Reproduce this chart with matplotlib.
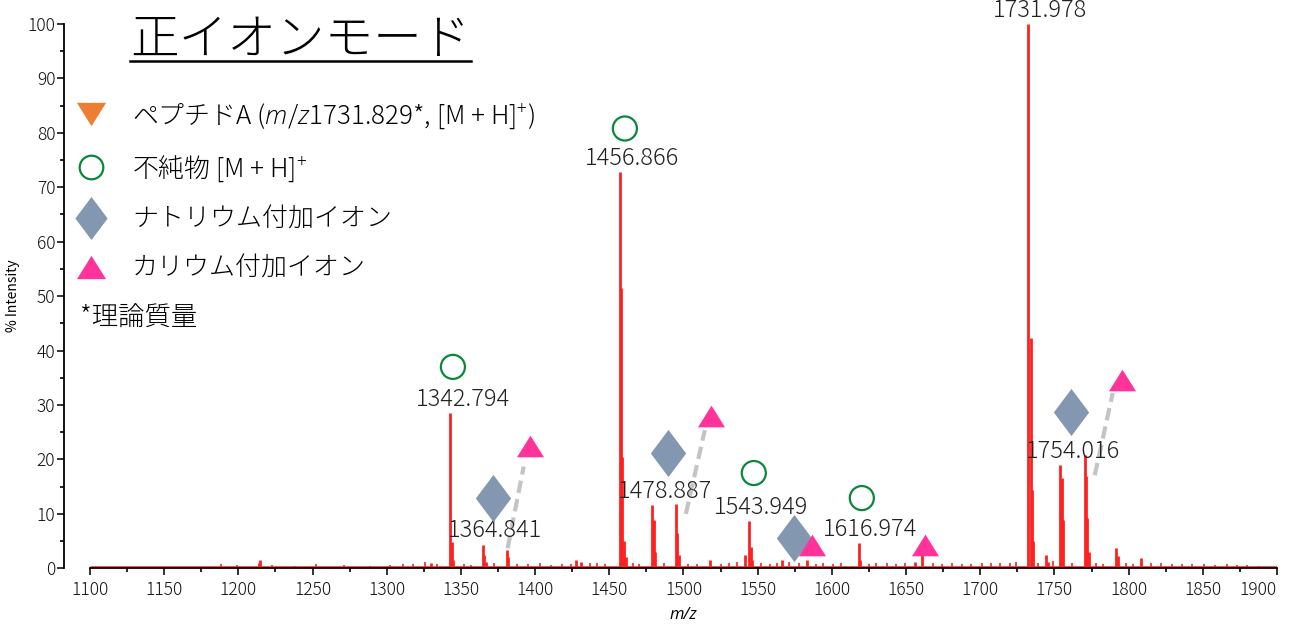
import matplotlib
matplotlib.use('Agg')
import matplotlib.pyplot as plt
from matplotlib.lines import Line2D
from matplotlib.path import Path
from matplotlib.ticker import MultipleLocator
import numpy as np

plt.rcParams['font.family'] = ['Noto Sans CJK JP', 'DejaVu Sans']
plt.rcParams['font.weight'] = 'light'
plt.rcParams['mathtext.fontset'] = 'custom'
plt.rcParams['mathtext.rm'] = 'Noto Sans CJK JP:light'
plt.rcParams['mathtext.it'] = 'Open Sans:italic:light'

# main peaks (m/z, % intensity)
peak_mz = [1213.8, 1214.5, 1330.0, 1342.8, 1343.8, 1344.6, 1364.8, 1365.7, 1366.6,
           1380.8, 1381.7, 1427.5, 1431.0, 1456.9, 1458.0, 1458.8, 1459.9, 1461.0,
           1478.9, 1479.8, 1480.7, 1495.0, 1495.9, 1496.8, 1518.0, 1541.4, 1544.3,
           1545.2, 1546.0, 1566.5, 1583.0, 1618.0, 1619.0, 1656.0, 1661.0,
           1732.0, 1734.2, 1734.9, 1735.8, 1744.6, 1745.5, 1754.0, 1755.0, 1755.8,
           1770.5, 1771.3, 1772.3, 1773.0, 1791.8, 1792.6, 1808.5]
peak_int = [0.9, 1.6, 1.0, 28.5, 4.8, 1.5, 4.3, 2.5, 1.2,
            3.4, 2.0, 1.5, 1.2, 72.8, 51.5, 20.5, 5.0, 2.0,
            11.6, 8.9, 3.0, 11.9, 6.5, 2.5, 1.5, 2.4, 8.7,
            4.0, 1.5, 1.5, 1.5, 4.6, 1.6, 1.2, 2.4,
            100.0, 42.3, 14.3, 5.0, 2.4, 1.2, 18.9, 16.5, 8.9,
            20.8, 17.0, 9.2, 3.0, 3.8, 2.2, 1.8]

# baseline noise (m/z, % intensity)
noise_mz = [1188, 1199, 1223, 1238, 1252, 1271, 1289, 1302, 1311, 1318, 1326,
            1334, 1352, 1357, 1372, 1388, 1395, 1403, 1411, 1418, 1424, 1437,
            1442, 1447, 1466, 1470, 1487, 1503, 1509, 1525, 1531, 1536, 1552,
            1558, 1563, 1571, 1578, 1589, 1594, 1601, 1606, 1625, 1630, 1637,
            1643, 1649, 1668, 1674, 1681, 1688, 1694, 1701, 1707, 1713, 1720,
            1724, 1739, 1749, 1762, 1778, 1783, 1798, 1803, 1815, 1822, 1829,
            1836, 1843, 1851, 1858, 1866, 1873, 1880, 1888]
noise_int = [0.7, 0.6, 0.6, 0.5, 0.7, 0.6, 0.5, 0.6, 0.8, 0.7, 1.1,
             0.7, 0.8, 0.6, 0.9, 0.7, 0.8, 0.9, 0.6, 0.7, 0.8, 0.9,
             1.0, 0.8, 0.9, 0.7, 0.9, 0.8, 0.7, 0.8, 1.0, 1.1, 0.9,
             0.8, 0.9, 1.2, 1.0, 0.8, 0.9, 0.7, 0.9, 0.8, 1.0, 0.9,
             0.8, 1.0, 0.9, 0.8, 0.9, 0.7, 0.8, 0.9, 1.0, 0.9, 1.0,
             1.1, 1.0, 1.3, 0.9, 1.0, 0.8, 0.9, 0.8, 0.9, 1.0, 0.8,
             0.7, 0.8, 0.7, 0.6, 0.7, 0.6, 0.6, 0.5]
baseline = 0.3

# labelled peaks
label_mz = [1342.794, 1364.841, 1456.866, 1478.887, 1543.949, 1616.974, 1731.978, 1754.016]
label_int = [28.5, 4.3, 72.8, 11.6, 8.7, 4.6, 100.0, 18.9]

# annotation markers
impurity_mz = [1344.6, 1460.5, 1547.4, 1620.2]
impurity_y = [37.0, 80.8, 17.5, 12.9]
na_mz = [1371.6, 1489.5, 1574.4, 1761.1]
na_y = [12.9, 21.2, 5.6, 28.7]
k_mz = [1396.5, 1518.5, 1586.5, 1662.7, 1795.4]
k_y = [22.4, 28.0, 4.2, 4.3, 34.6]
# dashed connectors (start, end)
conn_mz = [(1381.5, 1392.3), (1501.6, 1514.4), (1777.2, 1789.3)]
conn_y = [(3.7, 18.7), (10.0, 25.4), (17.1, 32.2)]

x_ticks = list(range(1100, 1901, 50))

legend_labels = ['ペプチドA ($\\it{m/z}$1731.829*, [M + H]$^{+}$)',
                 '不純物 [M + H]$^{+}$',
                 'ナトリウム付加イオン',
                 'カリウム付加イオン']

red = '#ff2020'
orange = '#ed7d31'
green = '#0a873a'
slate = '#8497b0'
pink = '#ff3399'

diamond = Path([(0, 1), (0.75, 0), (0, -1), (-0.75, 0), (0, 1)])
tri_up = Path([(0, 0.8), (1, -0.8), (-1, -0.8), (0, 0.8)])
tri_dn = Path([(0, -0.8), (1, 0.8), (-1, 0.8), (0, -0.8)])

fig = plt.figure(figsize=(12.93, 6.26), dpi=100)
ax = fig.add_axes([0.0696, 0.0922, 0.918, 0.8695])

# spectrum
ax.plot([1100, 1900], [baseline, baseline], color=red, lw=2.2, alpha=0.8, solid_capstyle='butt')
ax.vlines(noise_mz, baseline, noise_int, color=red, lw=1.2)
ax.vlines(peak_mz, baseline, peak_int, color=red, lw=2)

for (x0, x1), (y0, y1) in zip(conn_mz, conn_y):
    ax.plot([x0, x1], [y0, y1], color='#c4c4c4', lw=3, ls=(0, (3, 1.5)), zorder=3)

ax.scatter(impurity_mz, impurity_y, s=300, facecolor='none', edgecolor=green, lw=1.6, zorder=4, clip_on=False)
ax.scatter(na_mz, na_y, s=1150, marker=diamond, color=slate, lw=0, zorder=4)
ax.scatter(k_mz, k_y, s=380, marker=tri_up, color=pink, lw=0, zorder=5)

for mz, h in zip(label_mz, label_int):
    ax.annotate(f'{mz:.3f}', xy=(mz, h), xytext=(9, 10), textcoords='offset points',
                ha='center', va='center', fontsize=17, color='#222222', annotation_clip=False)

ax.set_xlim(1100, 1900)
ax.set_ylim(0, 100)
ax.set_xticks(x_ticks)
ax.xaxis.set_minor_locator(MultipleLocator(25))
ax.yaxis.set_major_locator(MultipleLocator(10))
ax.yaxis.set_minor_locator(MultipleLocator(5))
ax.tick_params(axis='both', which='major', length=5, width=1.2, labelsize=12.5, colors='#111111')
ax.tick_params(axis='both', which='minor', length=3, width=1.2)
ax.tick_params(axis='x', pad=4)
ax.tick_params(axis='y', pad=1)
ax.spines['top'].set_visible(False)
ax.spines['right'].set_visible(False)
ax.spines['left'].set_position(('outward', 19))
for s in ['left', 'bottom']:
    ax.spines[s].set_linewidth(1.3)

# last tick label sits left of its tick so it stays inside the figure
ax.get_xticklabels()[-1].set_horizontalalignment('right')

ax.set_xlabel('m/z', family='Open Sans', style='italic', fontsize=12, labelpad=6)
ax.set_ylabel('% Intensity', fontsize=10, labelpad=5)

handles = [
    Line2D([], [], ls='none', marker=tri_dn, ms=21, mfc=orange, mec='none'),
    Line2D([], [], ls='none', marker='o', ms=17, mfc='none', mec=green, mew=1.6),
    Line2D([], [], ls='none', marker=diamond, ms=31, mfc=slate, mec='none'),
    Line2D([], [], ls='none', marker=tri_up, ms=21, mfc=pink, mec='none'),
]
ax.legend(handles, legend_labels, loc='upper left', bbox_to_anchor=(-0.017, 0.858),
          frameon=False, fontsize=18.7, labelspacing=0.87, handletextpad=0.8,
          handlelength=1.6, borderpad=0, borderaxespad=0)

ax.text(-0.008, 0.46, '*理論質量', transform=ax.transAxes, fontsize=19,
        ha='left', va='center')

title = ax.text(0.034, 0.97, '正イオンモード', transform=ax.transAxes, fontsize=35,
                ha='left', va='center')

# underline under title
fig.canvas.draw()
bb = title.get_window_extent()
uy = (bb.y0 + bb.y1) / 2 - 21
fig.add_artist(Line2D([bb.x0, bb.x1], [uy, uy], transform=None, color='black', lw=1.8))

fig.savefig('out.png', dpi=100)
